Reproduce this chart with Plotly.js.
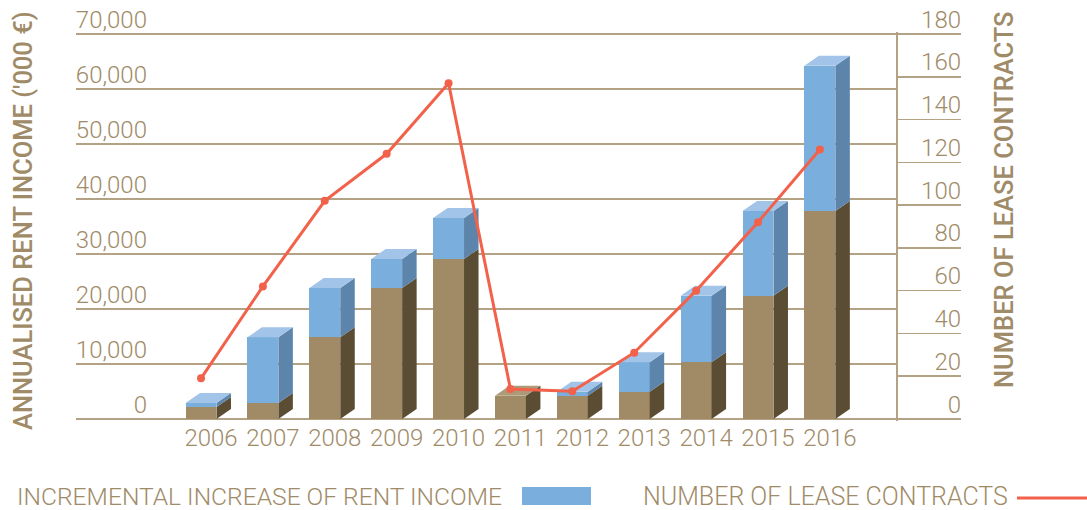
<!DOCTYPE html>
<html>
<head>
<meta charset="utf-8">
<script src="https://cdn.plot.ly/plotly-3.0.1.min.js"></script>
<style>html,body{margin:0;padding:0;background:#fff;}#chart{width:1087px;height:510px;}</style>
</head>
<body>
<div id="chart"></div>
<script>
// ---- data ----
const years = ['2006','2007','2008','2009','2010','2011','2012','2013','2014','2015','2016'];
const baseIncome = [2200, 2900, 14850, 23800, 29100, 4240, 4240, 4960, 10300, 22400, 37800];
const incrementalIncome = [700, 11950, 8950, 5300, 7450, 0, 720, 5340, 12100, 15400, 26450];
const leaseContracts = [19, 62, 102, 124, 157, 14, 13, 31, 60, 92, 126];
const leftTicks = [0, 10000, 20000, 30000, 40000, 50000, 60000, 70000];
const rightTicks = [0, 20, 40, 60, 80, 100, 120, 140, 160, 180];

// ---- style ----
const TXT = '#A08B68';
const GRID = '#B3A283';
const BROWN = '#A18B66', BROWN_SIDE = '#5A4D33', BROWN_TOP = '#AD9A78';
const BLUE = '#7AAEDD', BLUE_SIDE = '#5D85AB', BLUE_TOP = '#A1C4E8';
const RED = '#F2614A';
const FONT = 'Roboto, "Liberation Sans", sans-serif';

const W = 1087, H = 510;
const X0 = 76, X1 = 896, X2 = 959, YB = 419, YT = 34;
const idx = years.map((_, i) => i);
const BAR_W = 0.5;
const xRange = [-2.02, 11.23];
const yMax = 70000, y2Max = 180;
const pxPerUnitX = (X1 - X0) / (xRange[1] - xRange[0]);
const uPx1 = yMax / (YB - YT);             // income units per pixel
const uPx2 = y2Max / (YB - YT);            // contracts per pixel
const DX = 14.5 / pxPerUnitX;              // depth in category units
const DY = 10 * uPx1;                      // depth in income units
const PADPX = 2, TOPPX2 = 26;

const totals = baseIncome.map((b, i) => b + incrementalIncome[i]);

function sidePolys(lo, hi, keep) {
  const xs = [], ys = [];
  idx.forEach(i => {
    if (!keep(i)) return;
    const r = i + BAR_W / 2;
    xs.push(r, r + DX, r + DX, r, r, null);
    ys.push(lo[i], lo[i] + DY, hi[i] + DY, hi[i], lo[i], null);
  });
  return {xs, ys};
}
function topPolys(keep) {
  const xs = [], ys = [];
  idx.forEach(i => {
    if (!keep(i)) return;
    const l = i - BAR_W / 2, r = i + BAR_W / 2, t = totals[i];
    xs.push(l, l + DX, r + DX, r, l, null);
    ys.push(t, t + DY, t + DY, t, t, null);
  });
  return {xs, ys};
}
const zeros = idx.map(() => 0);
const brownSide = sidePolys(zeros, baseIncome, () => true);
const blueSide = sidePolys(baseIncome, totals, i => incrementalIncome[i] > 0);
const blueTop = topPolys(i => incrementalIncome[i] > 0);
const brownTop = topPolys(i => incrementalIncome[i] <= 0);

function poly(p, color) {
  return {type: 'scatter', x: p.xs, y: p.ys, mode: 'lines', fill: 'toself',
    fillcolor: color, line: {width: 0, color: color}, hoverinfo: 'skip', showlegend: false,
    xaxis: 'x', yaxis: 'y'};
}

const traces = [
  {type: 'bar', name: 'Base rent income', x: idx, y: baseIncome, width: BAR_W,
   marker: {color: BROWN, line: {width: 0}}, showlegend: false, xaxis: 'x', yaxis: 'y'},
  {type: 'bar', name: 'INCREMENTAL INCREASE OF RENT INCOME', x: idx, y: incrementalIncome, width: BAR_W,
   marker: {color: BLUE, line: {width: 0}}, showlegend: false, xaxis: 'x', yaxis: 'y'},
  poly(brownSide, BROWN_SIDE),
  poly(blueSide, BLUE_SIDE),
  poly(blueTop, BLUE_TOP),
  poly(brownTop, BROWN_TOP),
  {type: 'scatter', name: 'NUMBER OF LEASE CONTRACTS', x: idx, y: leaseContracts, mode: 'lines+markers',
   line: {color: RED, width: 3}, marker: {color: RED, size: 8}, showlegend: false,
   xaxis: 'x', yaxis: 'y3'},
  {type: 'scatter', x: [0.5], y: [0], mode: 'markers', marker: {opacity: 0}, hoverinfo: 'skip',
   showlegend: false, xaxis: 'x2', yaxis: 'y2'}
];

const tickFont = {family: FONT, size: 24, color: TXT, weight: 300};
const yDom = [(H - YB - PADPX) / H, (H - YT + PADPX) / H];
const y2Dom = [(H - YB - PADPX) / H, (H - YT + TOPPX2) / H];

const layout = {
  width: W, height: H,
  margin: {l: 0, r: 0, t: 0, b: 0},
  paper_bgcolor: '#fff', plot_bgcolor: 'rgba(0,0,0,0)',
  barmode: 'stack',
  showlegend: false,
  font: {family: FONT, color: TXT},
  xaxis: {domain: [X0 / W, X1 / W], range: xRange, tickmode: 'array', tickvals: idx, ticktext: years,
          showgrid: false, zeroline: false, showline: false, ticks: '', tickfont: tickFont,
          ticklabelstandoff: 0, ticklabelshift: 10, anchor: 'y', fixedrange: true},
  yaxis: {domain: yDom, range: [-PADPX * uPx1, yMax + PADPX * uPx1], tickmode: 'array', tickvals: leftTicks,
          ticktext: leftTicks.map(v => v.toLocaleString('en-US')),
          anchor: 'free', position: 147 / W, side: 'left',
          ticklabelposition: 'outside top', ticklabelshift: 2, ticks: '',
          showgrid: true, gridcolor: GRID, gridwidth: 1.5, zeroline: false, showline: false,
          tickfont: tickFont, fixedrange: true},
  xaxis2: {domain: [X1 / W, X2 / W], range: [0, 1], visible: false, anchor: 'y2', fixedrange: true},
  yaxis2: {domain: y2Dom, range: [-PADPX * uPx2, y2Max + TOPPX2 * uPx2], tickmode: 'array', tickvals: rightTicks,
           anchor: 'x2', side: 'right', ticklabelposition: 'inside top', ticks: '',
           ticklabelstandoff: -5, ticklabelshift: 2, ticklabeloverflow: 'allow',
           showgrid: false, zeroline: false, showline: false,
           tickfont: tickFont, fixedrange: true},
  yaxis3: {overlaying: 'y', anchor: 'x', side: 'right', range: [-PADPX * uPx2, y2Max + PADPX * uPx2],
           tickmode: 'array', tickvals: rightTicks,
           showgrid: false, zeroline: false, showticklabels: false,
           ticks: 'outside', ticklen: X2 - X1, tickwidth: 1.5, tickcolor: GRID,
           showline: true, linecolor: GRID, linewidth: 1.5, fixedrange: true},
  annotations: [
    {text: "ANNUALISED RENT INCOME ('000 €)", xref: 'paper', yref: 'paper',
     x: 23 / W, y: 1 - 221 / H, textangle: -90, showarrow: false,
     font: {family: FONT, size: 25.5, color: TXT, weight: 500}, xanchor: 'center', yanchor: 'middle'},
    {text: 'NUMBER OF LEASE CONTRACTS', xref: 'paper', yref: 'paper',
     x: 1004 / W, y: 1 - 200 / H, textangle: -90, showarrow: false,
     font: {family: FONT, size: 25.5, color: TXT, weight: 500}, xanchor: 'center', yanchor: 'middle'},
    {text: 'INCREMENTAL INCREASE OF RENT INCOME', xref: 'paper', yref: 'paper',
     x: 15 / W, y: 1 - 496 / H, showarrow: false, xanchor: 'left', yanchor: 'middle',
     font: {family: FONT, size: 24.6, color: TXT, weight: 300}},
    {text: 'NUMBER OF LEASE CONTRACTS', xref: 'paper', yref: 'paper',
     x: 641 / W, y: 1 - 496 / H, showarrow: false, xanchor: 'left', yanchor: 'middle',
     font: {family: FONT, size: 25, color: TXT, weight: 300}}
  ],
  shapes: [
    {type: 'rect', xref: 'paper', yref: 'paper', x0: 522 / W, x1: 591 / W,
     y0: 1 - 505 / H, y1: 1 - 487 / H, fillcolor: BLUE, line: {width: 0}},
    {type: 'line', xref: 'paper', yref: 'paper', x0: 1017 / W, x1: 1087 / W,
     y0: 1 - 498 / H, y1: 1 - 498 / H, line: {color: RED, width: 3}}
  ]
};

Plotly.newPlot('chart', traces, layout, {displayModeBar: false, staticPlot: true});
</script>
</body>
</html>
